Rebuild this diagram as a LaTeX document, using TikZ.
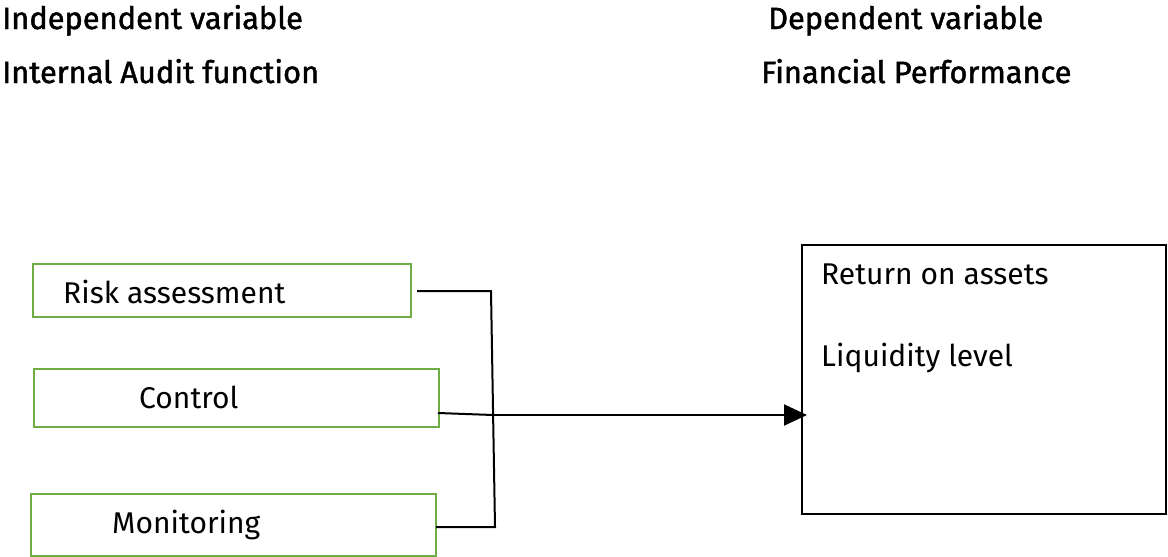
\documentclass[tikz,border=0pt]{standalone}
\usepackage{fontspec}
\setmainfont{Fira Sans}
\newfontfamily\headfont[FakeBold=1.5]{Fira Sans}
\usetikzlibrary{arrows.meta}
\definecolor{boxgreen}{HTML}{70AD47}
\tikzset{
  x=1pt,y=-1pt,
  head/.style={inner sep=0pt,anchor=base west,font=\headfont\fontsize{30.8}{34}\selectfont},
  lbl/.style={inner sep=0pt,anchor=base west,font=\fontsize{30}{34}\selectfont},
  gbox/.style={draw=boxgreen,line width=2pt},
  conn/.style={draw=black,line width=2pt},
}
\begin{document}
\begin{tikzpicture}
\useasboundingbox (0,0) rectangle (1168,557);
% headings
\node[head] (iv) at (2,29) {Independent variable};
\node[head] (iaf) at (2,83) {Internal Audit function};
\node[head] (dv) at (768,29) {Dependent variable};
\node[head] (fp) at (761,83) {Financial Performance};
% left boxes
\path[gbox] (33,264) rectangle (411,317);
\coordinate (riskE) at (417,291);
\node[lbl] (risk) at (63,303) {Risk assessment};
\path[gbox] (34,369) rectangle (439,427);
\coordinate (ctrlE) at (438,413);
\node[lbl] (ctrl) at (139,408) {Control};
\path[gbox] (31,494) rectangle (436,556);
\coordinate (monE) at (436,527);
\node[lbl] (mon) at (112,533) {Monitoring};
% right box
\path[conn] (802,245) rectangle (1166,514);
\node[lbl] (roa) at (821,284) {Return on assets};
\node[lbl] (liq) at (821,366) {Liquidity level};
\coordinate (fpW) at (807,415);
% connectors
\coordinate (jTop) at (491,291);
\coordinate (jMid) at (493,415);
\coordinate (jBot) at (495,527);
\draw[conn] (riskE) -- (jTop) -- (jBot) -- (monE);
\draw[conn] (ctrlE) -- (jMid);
\draw[conn,-{Triangle[length=23pt,width=21pt]}] (jMid) -- (fpW);
\end{tikzpicture}
\end{document}
